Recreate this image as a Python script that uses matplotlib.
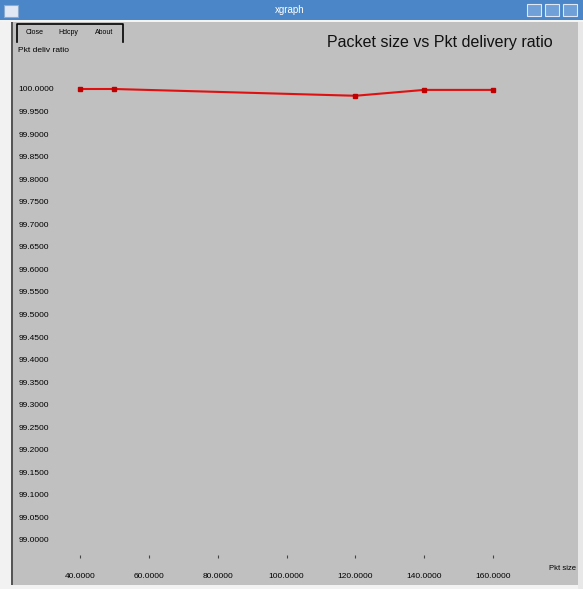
import numpy as np
import matplotlib.pyplot as plt
from matplotlib.patches import Rectangle

# xgraph window: Packet size vs Pkt delivery ratio
W, H = 583, 589

pkt_size = [40, 50, 120, 140, 160]
pdr = [100.0, 100.0, 99.985, 99.998, 99.998]

x_ticks = [40, 60, 80, 100, 120, 140, 160]
y_ticks = np.round(np.arange(99.0, 100.001, 0.05), 2)

TITLE = "Packet size vs Pkt delivery ratio"
X_UNIT = "Pkt size"
Y_UNIT = "Pkt deliv ratio"
GREY = "#c0c0c0"


def px(x0, y0, x1, y1):
    # pixel box -> figure fraction rect
    return [x0 / W, 1 - y1 / H, (x1 - x0) / W, (y1 - y0) / H]


fig = plt.figure(figsize=(W / 100, H / 100), dpi=100)
fig.patch.set_facecolor(GREY)
plt.rcParams['font.family'] = ['Liberation Sans', 'DejaVu Sans']

# window decorations
fig.add_artist(Rectangle((0, 0), 11 / W, 1, transform=fig.transFigure,
                         facecolor="#f2f2f2", edgecolor="none"))
fig.add_artist(Rectangle((11 / W, 0), 1.5 / W, 1, transform=fig.transFigure,
                         facecolor="#555555", edgecolor="none"))
fig.add_artist(Rectangle((0, 0), 1, 4 / H, transform=fig.transFigure,
                         facecolor="#f2f2f2", edgecolor="none"))
fig.add_artist(Rectangle((578 / W, 0), 5 / W, 1, transform=fig.transFigure,
                         facecolor="#e8e8e8", edgecolor="none"))
fig.add_artist(Rectangle((0, 1 - 20 / H), 1, 20 / H, transform=fig.transFigure,
                         facecolor="#4a86c8", edgecolor="none"))
fig.add_artist(Rectangle((0, 1 - 22 / H), 1, 2 / H, transform=fig.transFigure,
                         facecolor="#f4f4f4", edgecolor="none"))
fig.text(290 / W, 1 - 10 / H, "xgraph", color="white", fontsize=7,
         ha="center", va="center")
fig.add_artist(Rectangle((4 / W, 1 - 17 / H), 14 / W, 12 / H,
                         transform=fig.transFigure, facecolor="#dfe8f4",
                         edgecolor="#8aaad0", lw=0.8))
for x0 in [527, 545, 563]:
    fig.add_artist(Rectangle((x0 / W, 1 - 16 / H), 14 / W, 12 / H,
                             transform=fig.transFigure, facecolor="#6fa0d8",
                             edgecolor="#dfe8f4", lw=0.8))

# buttons
fig.add_artist(plt.Line2D([17 / W, 17 / W, 123 / W, 123 / W],
                          [1 - 42 / H, 1 - 24 / H, 1 - 24 / H, 1 - 42 / H],
                          transform=fig.transFigure, color="black", lw=1.2))
for xb, lbl in [(35, "Close"), (68, "Hdcpy"), (104, "About")]:
    fig.text(xb / W, 1 - 32 / H, lbl, fontsize=5, ha="center", va="center")

fig.text(18 / W, 1 - 50 / H, Y_UNIT, fontsize=6, ha="left", va="center")
fig.text(553 / W, 1 - 42 / H, TITLE, fontsize=11.5, ha="right", va="center",
         color="#111111")
fig.text(576 / W, 1 - 568 / H, X_UNIT, fontsize=5.5, ha="right", va="center")

# plot area
ax = fig.add_axes(px(60, 60, 520, 555))
ax.set_facecolor(GREY)
ax.plot(pkt_size, pdr, color="#e01010", lw=1.5, marker="s", ms=3,
        markerfacecolor="#c00000", markeredgecolor="#c00000")

ax.set_xlim(40 - 20 / 3.442, 160 + 27 / 3.442)
ax.set_ylim(99.0 - 15 / 451, 100.0 + 29 / 451)
ax.set_xticks(x_ticks)
ax.set_xticklabels([f"{v:.4f}" for v in x_ticks], fontsize=6)
ax.set_yticks(y_ticks)
ax.set_yticklabels([f"{v:.4f}" for v in y_ticks], fontsize=6, ha="left")
ax.tick_params(axis="x", length=2, pad=11, color="#444444")
ax.tick_params(axis="y", length=0, pad=30)
for s in ax.spines.values():
    s.set_visible(False)

fig.savefig("out.png", dpi=100, facecolor=fig.get_facecolor())
